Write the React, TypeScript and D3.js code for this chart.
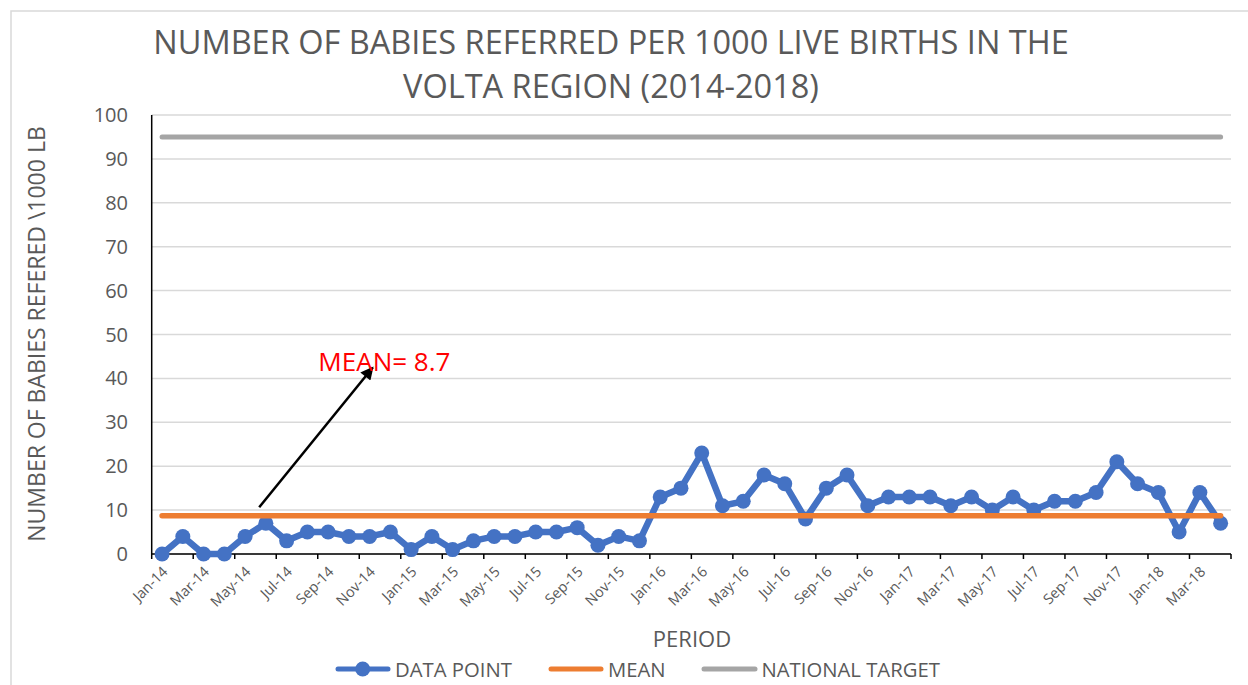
import React from "react";
import * as d3 from "d3";

// monthly referrals per 1000 live births, Jan-14 .. Apr-18
const years = ["14", "15", "16", "17", "18"];
const monthNames = ["Jan", "Feb", "Mar", "Apr", "May", "Jun", "Jul", "Aug", "Sep", "Oct", "Nov", "Dec"];
const periods = years.flatMap((yr) => monthNames.map((m) => `${m}-${yr}`)).slice(0, 52);

const dataPoints = [
  0, 4, 0, 0, 4, 7, 3, 5, 5, 4, 4, 5,
  1, 4, 1, 3, 4, 4, 5, 5, 6, 2, 4, 3,
  13, 15, 23, 11, 12, 18, 16, 8, 15, 18, 11, 13,
  13, 13, 11, 13, 10, 13, 10, 12, 12, 14, 21, 16,
  14, 5, 14, 7,
];
const meanValue = 8.7;
const nationalTarget = 95;
const yTicks = [0, 10, 20, 30, 40, 50, 60, 70, 80, 90, 100];

const titleLines = [
  "NUMBER OF BABIES REFERRED PER 1000 LIVE BIRTHS IN THE",
  "VOLTA REGION (2014-2018)",
];

const BLUE = "#4472C4";
const ORANGE = "#ED7D31";
const GRAY = "#A5A5A5";
const TEXT = "#595959";
const FONT = "'Open Sans', 'Noto Sans', sans-serif";

export default function App() {
  const W = 1248;
  const H = 685;
  const left = 151.7;
  const right = 1231;
  const top = 115;
  const bottom = 554;

  const x = d3.scaleBand<string>().domain(periods).range([left, right]).padding(0);
  const bw = x.bandwidth();
  const cx = (p: string) => (x(p) as number) + bw / 2;
  const y = d3.scaleLinear().domain([0, 100]).range([bottom, top]);
  // index-based scale for the annotation arrow
  const xi = d3.scaleLinear().domain([0, periods.length - 1]).range([cx(periods[0]), cx(periods[periods.length - 1])]);

  const line = d3
    .line<number>()
    .x((_, i) => cx(periods[i]))
    .y((d) => y(d));

  const meanSeries = periods.map(() => meanValue);
  const targetSeries = periods.map(() => nationalTarget);

  const tickIdx = periods.map((_, i) => i).filter((i) => i % 2 === 0);

  const arrowFrom = [xi(4.68), y(10.64)];
  const arrowTo = [xi(10.15), y(42.5)];

  return (
    <svg
      width={W}
      height={H}
      style={{ position: "absolute", left: 0, top: 0, background: "#fff" }}
      fontFamily={FONT}
    >
      <defs>
        <marker
          id="arrowHead"
          viewBox="0 0 10 10"
          refX="9"
          refY="5"
          markerWidth="16"
          markerHeight="13"
          markerUnits="userSpaceOnUse"
          orient="auto"
        >
          <path d="M0,0 L10,5 L0,10 z" fill="#000" />
        </marker>
      </defs>
      <rect x={11} y={11} width={1400} height={800} fill="#fff" stroke="#D9D9D9" strokeWidth={1.5} />

      {/* title */}
      {titleLines.map((t, i) => (
        <text key={t} x={611} y={54 + i * 44} textAnchor="middle" fontSize={32.5} fill={TEXT}>
          {t}
        </text>
      ))}

      {/* gridlines */}
      {yTicks.map((t) => (
        <line key={t} x1={left} x2={right} y1={y(t)} y2={y(t)} stroke="#D9D9D9" strokeWidth={1.5} />
      ))}

      {/* y tick labels */}
      {yTicks.map((t) => (
        <text key={"l" + t} x={128} y={y(t)} dy="0.35em" textAnchor="end" fontSize={20} fill={TEXT}>
          {t}
        </text>
      ))}

      {/* y axis title */}
      <text transform={`translate(45, 334) rotate(-90)`} textAnchor="middle" fontSize={23} fill={TEXT}>
        NUMBER OF BABIES REFERED \1000 LB
      </text>

      {/* axes */}
      <line x1={left} x2={left} y1={top} y2={bottom} stroke="#000" strokeWidth={1.5} />
      <line x1={left} x2={right} y1={bottom} y2={bottom} stroke="#000" strokeWidth={1.5} />
      {[...tickIdx.map((i) => x(periods[i]) as number), right].map((tx, i) => (
        <line key={"t" + i} x1={tx} x2={tx} y1={bottom} y2={bottom + 5} stroke="#000" strokeWidth={1.5} />
      ))}

      {/* x tick labels */}
      {tickIdx.map((i) => (
        <text
          key={"x" + i}
          transform={`translate(${cx(periods[i]) + 3}, 569) rotate(-45)`}
          dy="0.35em"
          textAnchor="end"
          fontSize={14.5}
          fill={TEXT}
        >
          {periods[i]}
        </text>
      ))}

      {/* series */}
      <path d={line(targetSeries) ?? ""} fill="none" stroke={GRAY} strokeWidth={5} strokeLinecap="round" />
      <path d={line(dataPoints) ?? ""} fill="none" stroke={BLUE} strokeWidth={6.5} strokeLinejoin="round" />
      {dataPoints.map((d, i) => (
        <circle key={"p" + i} cx={cx(periods[i])} cy={y(d)} r={7.5} fill={BLUE} />
      ))}
      <path d={line(meanSeries) ?? ""} fill="none" stroke={ORANGE} strokeWidth={5.5} strokeLinecap="round" />

      {/* annotation */}
      <line
        x1={arrowFrom[0]}
        y1={arrowFrom[1]}
        x2={arrowTo[0]}
        y2={arrowTo[1]}
        stroke="#000"
        strokeWidth={2.5}
        markerEnd="url(#arrowHead)"
      />
      <text x={xi(7.53)} y={y(41.75)} fontSize={26} fill="#FF0000">
        MEAN= 8.7
      </text>

      {/* x axis title */}
      <text x={692} y={647} textAnchor="middle" fontSize={22} fill={TEXT}>
        PERIOD
      </text>

      {/* legend */}
      <g fontSize={20.3} fill={TEXT}>
        <line x1={338} x2={388} y1={669} y2={669} stroke={BLUE} strokeWidth={5} strokeLinecap="round" />
        <circle cx={362.7} cy={669} r={7.5} fill={BLUE} />
        <text x={395} y={676.5}>DATA POINT</text>
        <line x1={551} x2={601} y1={669} y2={669} stroke={ORANGE} strokeWidth={5} strokeLinecap="round" />
        <text x={608} y={676.5}>MEAN</text>
        <line x1={704} x2={755} y1={669} y2={669} stroke={GRAY} strokeWidth={5} strokeLinecap="round" />
        <text x={761.5} y={676.5}>NATIONAL TARGET</text>
      </g>
    </svg>
  );
}
